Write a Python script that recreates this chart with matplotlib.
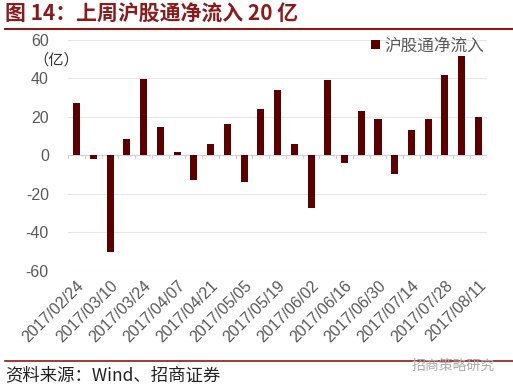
import matplotlib.pyplot as plt
import matplotlib.lines as mlines
import numpy as np

plt.rcParams['font.family'] = ['Noto Sans CJK SC', 'DejaVu Sans']

dates = ['2017/02/24', '2017/03/03', '2017/03/10', '2017/03/17', '2017/03/24',
         '2017/03/31', '2017/04/07', '2017/04/14', '2017/04/21', '2017/04/28',
         '2017/05/05', '2017/05/12', '2017/05/19', '2017/05/26', '2017/06/02',
         '2017/06/09', '2017/06/16', '2017/06/23', '2017/06/30', '2017/07/07',
         '2017/07/14', '2017/07/21', '2017/07/28', '2017/08/04', '2017/08/11']
inflow = [27.4, -2.0, -50.0, 8.3, 39.5, 14.5, 1.7, -13.0, 5.9, 16.4,
          -14.0, 24.0, 34.0, 5.7, -27.5, 39.1, -3.8, 22.9, 19.0, -9.9,
          13.2, 18.7, 42.0, 51.8, 19.7]

red = '#8B1A1A'
bar_color = '#5A0000'
grey = '#595959'
latin = ['Liberation Sans', 'DejaVu Sans']

fig = plt.figure(figsize=(5.13, 3.87), dpi=100)
ax = fig.add_axes([0.133, 0.300, 0.816, 0.597])

x = np.arange(len(dates))
ax.bar(x, inflow, width=0.42, color=bar_color, label='沪股通净流入', zorder=3)

ax.set_ylim(-60, 60)
ax.set_xlim(-0.5, len(dates) - 0.5)
ax.set_yticks(range(-60, 61, 20))
ax.yaxis.grid(True, color='#E6E6E6', linewidth=0.8, zorder=0)
for s in ax.spines.values():
    s.set_visible(False)
ax.axhline(0, color='#D0D0D0', linewidth=0.8, zorder=2)
ax.tick_params(axis='y', length=0, labelsize=11.5, labelcolor=grey, pad=14)
ax.set_yticklabels([str(v) for v in range(-60, 61, 20)], family=latin)

ax.set_xticks(x[::2])
ax.set_xticklabels(dates[::2], rotation=45, ha='right', rotation_mode='anchor',
                   fontsize=11.5, color=grey, family=latin)
ax.tick_params(axis='x', length=0, pad=5)
# small ticks on the zero line between categories
for b in np.arange(-0.5, len(dates), 1):
    ax.plot([b, b], [0, -1.5], color='#D0D0D0', linewidth=0.8, zorder=2)

ax.legend(loc='upper right', frameon=False, fontsize=12, handlelength=0.5,
          handleheight=0.5, handletextpad=0.3, labelcolor=grey,
          bbox_to_anchor=(1.01, 1.04), borderaxespad=0)

fig.text(0.066, 0.846, '（亿）', fontsize=11, color='#333333', ha='left', va='center')

fig.text(0.01, 0.963, '图 14：上周沪股通净流入 20 亿', fontsize=15, color=red,
         fontweight='bold', ha='left', va='center')
fig.add_artist(mlines.Line2D([0.01, 1.0], [0.925, 0.925], color=red, linewidth=1.5))
fig.add_artist(mlines.Line2D([0.01, 1.0], [0.067, 0.067], color=red, linewidth=1.2))
fig.text(0.01, 0.030, '资料来源：Wind、招商证券', fontsize=12.5, color='#222222',
         ha='left', va='center')
fig.text(0.965, 0.055, '招商策略研究', fontsize=10, color='#AAAAAA', ha='right', va='center')

fig.savefig('out.png', dpi=100)
